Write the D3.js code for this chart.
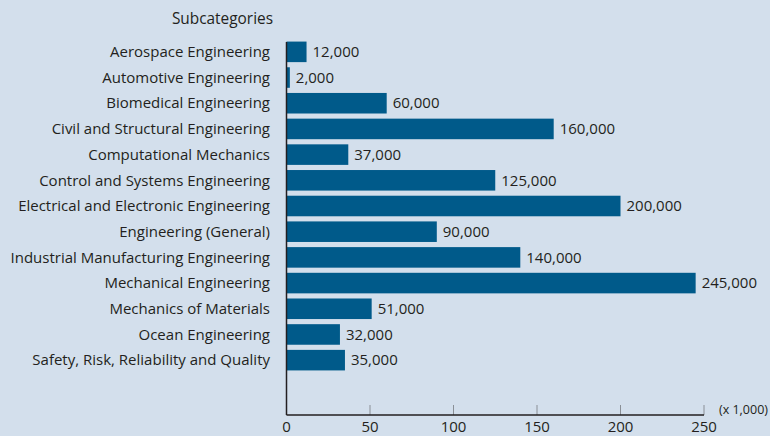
<!DOCTYPE html>
<html>
<head>
<meta charset="utf-8">
<script src="https://cdn.jsdelivr.net/npm/d3@7"></script>
<style>
  html, body { margin: 0; padding: 0; background: #d3dfec; }
  svg { display: block; }
</style>
</head>
<body>
<svg id="chart" width="770" height="436"></svg>
<script>
// data
const categories = [
  'Aerospace Engineering',
  'Automotive Engineering',
  'Biomedical Engineering',
  'Civil and Structural Engineering',
  'Computational Mechanics',
  'Control and Systems Engineering',
  'Electrical and Electronic Engineering',
  'Engineering (General)',
  'Industrial Manufacturing Engineering',
  'Mechanical Engineering',
  'Mechanics of Materials',
  'Ocean Engineering',
  'Safety, Risk, Reliability and Quality'
];
const values = [12, 2, 60, 160, 37, 125, 200, 90, 140, 245, 51, 32, 35];  // x 1,000
const xTicks = [0, 50, 100, 150, 200, 250];

const font = '"Open Sans", "Noto Sans", sans-serif';
const textColor = '#231f20';
const barColor = '#005a8a';

const svg = d3.select('#chart');
svg.append('rect')
  .attr('width', 770).attr('height', 436)
  .attr('fill', '#d3dfec');

const x = d3.scaleLinear().domain([0, 250]).range([286.5, 704]);
const y = d3.scaleBand().domain(categories).range([39, 373])
  .paddingInner(0.2).paddingOuter(0.1);

// bars
svg.append('g').selectAll('rect')
  .data(values)
  .join('rect')
  .attr('x', x(0))
  .attr('y', (d, i) => y(categories[i]))
  .attr('width', d => x(d) - x(0))
  .attr('height', y.bandwidth())
  .attr('fill', barColor);

// value labels
svg.append('g').selectAll('text')
  .data(values)
  .join('text')
  .attr('x', d => x(d) + 6)
  .attr('y', (d, i) => y(categories[i]) + y.bandwidth() / 2)
  .attr('dy', '0.35em')
  .attr('fill', textColor)
  .style('font-family', font)
  .style('font-size', '15px')
  .text(d => d3.format(',')(d * 1000));

// category labels
svg.append('g').selectAll('text')
  .data(categories)
  .join('text')
  .attr('x', 270)
  .attr('y', d => y(d) + y.bandwidth() / 2)
  .attr('dy', '0.35em')
  .attr('text-anchor', 'end')
  .attr('fill', textColor)
  .style('font-family', font)
  .style('font-size', '15px')
  .text(d => d);

svg.append('text')
  .attr('x', 273).attr('y', 19).attr('dy', '0.35em')
  .attr('text-anchor', 'end')
  .attr('fill', textColor)
  .style('font-family', font)
  .style('font-size', '15.4px')
  .text('Subcategories');

// x axis
const axisG = svg.append('g').attr('transform', 'translate(0,415)');
axisG.selectAll('line.tick')
  .data(xTicks.slice(1))
  .join('line')
  .attr('class', 'tick')
  .attr('x1', d => x(d)).attr('x2', d => x(d))
  .attr('y1', 0).attr('y2', -10)
  .attr('stroke', '#8a8f96').attr('stroke-width', 1);
// tick labels sit at the bottom edge, nudged up so they stay inside the frame
axisG.selectAll('text')
  .data(xTicks)
  .join('text')
  .attr('x', d => x(d))
  .attr('y', 17)
  .attr('text-anchor', 'middle')
  .attr('fill', textColor)
  .style('font-family', font)
  .style('font-size', '15px')
  .text(d => d);
axisG.append('line')
  .attr('x1', x(0)).attr('x2', x(250))
  .attr('stroke', '#231f20').attr('stroke-width', 1.5);

// y axis line
svg.append('line')
  .attr('x1', x(0)).attr('x2', x(0))
  .attr('y1', 42).attr('y2', 415)
  .attr('stroke', '#231f20').attr('stroke-width', 1.5);

svg.append('text')
  .attr('x', 768).attr('y', 410).attr('dy', '0.35em')
  .attr('text-anchor', 'end')
  .attr('fill', textColor)
  .style('font-family', font)
  .style('font-size', '12.5px')
  .text('(x 1,000)');
</script>
</body>
</html>
